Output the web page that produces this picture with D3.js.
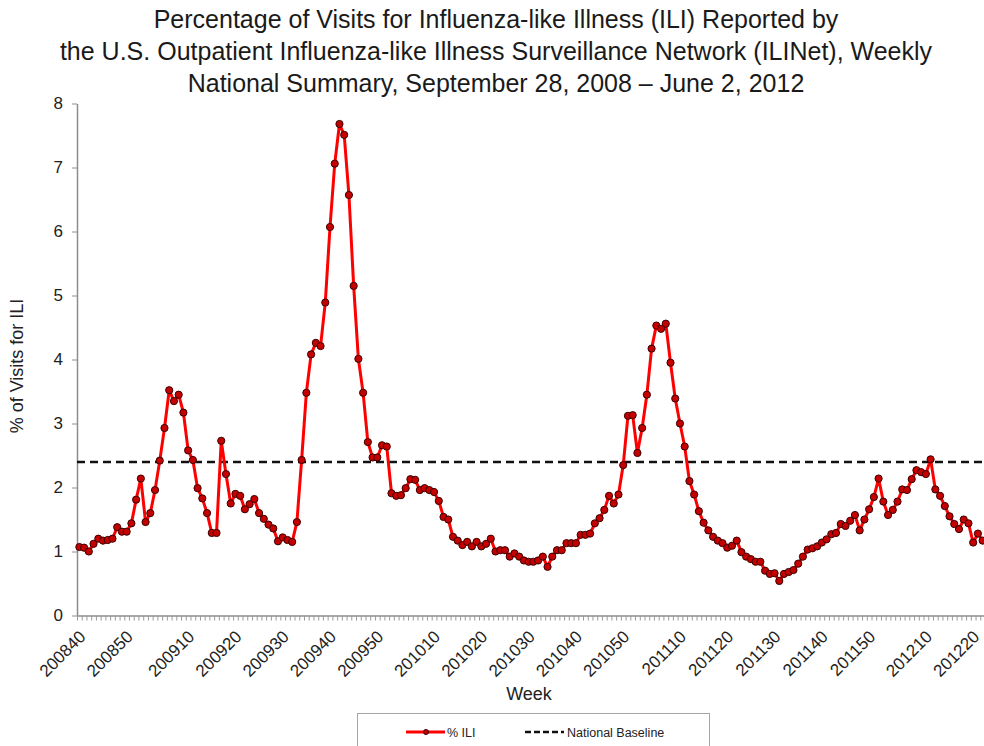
<!DOCTYPE html>
<html>
<head>
<meta charset="utf-8">
<script src="https://cdn.jsdelivr.net/npm/d3@7"></script>
<style>
  body { margin: 0; background: #fff; }
  svg { display: block; font-family: "Liberation Sans", Arial, sans-serif; }
</style>
</head>
<body>
<div id="chart"></div>
<script>
(function() {
  // MMWR weeks shown: [year, first week, last week]
  var yearWeeks = [[2008, 40, 53], [2009, 1, 52], [2010, 1, 52], [2011, 1, 52], [2012, 1, 22]];

  // % of visits for ILI, one value per week
  var ili2008 = [1.07, 1.06, 1.00, 1.12, 1.20, 1.17, 1.18, 1.20, 1.38, 1.31, 1.31, 1.44, 1.81, 2.14];
  var ili2009 = [1.46, 1.60, 1.96, 2.42, 2.93, 3.52, 3.35, 3.45, 3.17, 2.58,
                 2.43, 1.99, 1.83, 1.60, 1.29, 1.29, 2.73, 2.21, 1.75, 1.90,
                 1.87, 1.66, 1.74, 1.82, 1.60, 1.51, 1.42, 1.36, 1.16, 1.22,
                 1.18, 1.15, 1.46, 2.43, 3.48, 4.08, 4.26, 4.21, 4.89, 6.07,
                 7.06, 7.68, 7.51, 6.57, 5.15, 4.01, 3.48, 2.71, 2.47, 2.47,
                 2.66, 2.64];
  var ili2010 = [1.91, 1.87, 1.88, 1.99, 2.13, 2.12, 1.96, 1.99, 1.96, 1.93,
                 1.79, 1.54, 1.50, 1.23, 1.17, 1.10, 1.15, 1.08, 1.15, 1.08,
                 1.12, 1.20, 1.00, 1.02, 1.02, 0.92, 0.97, 0.92, 0.86, 0.84,
                 0.84, 0.86, 0.92, 0.76, 0.92, 1.02, 1.02, 1.13, 1.13, 1.13,
                 1.26, 1.26, 1.28, 1.44, 1.52, 1.65, 1.87, 1.75, 1.89, 2.35,
                 3.12, 3.13];
  var ili2011 = [2.54, 2.93, 3.45, 4.17, 4.53, 4.48, 4.56, 3.95, 3.39, 3.00,
                 2.64, 2.10, 1.89, 1.63, 1.45, 1.33, 1.23, 1.17, 1.13, 1.06,
                 1.09, 1.17, 0.99, 0.92, 0.88, 0.84, 0.84, 0.70, 0.65, 0.66,
                 0.54, 0.65, 0.68, 0.71, 0.81, 0.92, 1.03, 1.05, 1.08, 1.14,
                 1.19, 1.27, 1.29, 1.43, 1.40, 1.48, 1.57, 1.33, 1.50, 1.66,
                 1.85, 2.14];
  var ili2012 = [1.78, 1.57, 1.65, 1.78, 1.97, 1.96, 2.13, 2.27, 2.24, 2.21,
                 2.44, 1.97, 1.87, 1.71, 1.55, 1.43, 1.35, 1.50, 1.44, 1.14,
                 1.28, 1.17];

  var nationalBaseline = 2.4;

  var tickLabels = ["200840", "200850", "200910", "200920", "200930", "200940", "200950",
                    "201010", "201020", "201030", "201040", "201050",
                    "201110", "201120", "201130", "201140", "201150",
                    "201210", "201220"];
  var yTicks = [0, 1, 2, 3, 4, 5, 6, 7, 8];

  var titleLines = [
    "Percentage of Visits for Influenza-like Illness (ILI) Reported by",
    "the U.S. Outpatient Influenza-like Illness Surveillance Network (ILINet), Weekly",
    "National Summary, September 28, 2008 \u2013 June 2, 2012"
  ];

  var weeks = [];
  yearWeeks.forEach(function(yw) {
    for (var w = yw[1]; w <= yw[2]; w++) {
      weeks.push(yw[0] + (w < 10 ? "0" : "") + w);
    }
  });
  var values = ili2008.concat(ili2009, ili2010, ili2011, ili2012);
  var data = weeks.map(function(w, i) { return { week: w, ili: values[i] }; });

  var width = 984, height = 746;
  var plot = { left: 77, right: 985, top: 103.5, bottom: 615.5 };

  var svg = d3.select("#chart")
    .append("svg")
    .attr("width", width)
    .attr("height", height);

  var xScale = d3.scalePoint()
    .domain(weeks)
    .range([plot.left, plot.right])
    .padding(0.5);

  var xEdge = d3.scaleLinear()
    .domain([0, weeks.length])
    .range([plot.left, plot.right]);

  var yScale = d3.scaleLinear()
    .domain([0, 8])
    .range([plot.bottom, plot.top]);

  // title
  svg.append("g")
    .selectAll("text")
    .data(titleLines)
    .enter()
    .append("text")
    .attr("x", 496)
    .attr("y", function(d, i) { return 28 + i * 32; })
    .attr("text-anchor", "middle")
    .attr("font-size", 25)
    .attr("fill", "#1a1a1a")
    .text(function(d) { return d; });

  // y axis
  var yAxis = svg.append("g")
    .attr("transform", "translate(" + plot.left + ",0)")
    .call(d3.axisLeft(yScale).tickValues(yTicks).tickSize(5).tickPadding(9).tickSizeOuter(0));
  yAxis.select(".domain").attr("stroke", "#8c8c8c").attr("stroke-width", 1.5);
  yAxis.selectAll(".tick line").attr("stroke", "#8c8c8c");
  yAxis.selectAll(".tick text")
    .attr("font-size", 17)
    .attr("font-family", "Liberation Sans, Arial, sans-serif")
    .attr("fill", "#222");

  // x axis: one small tick per week boundary
  var xAxis = svg.append("g")
    .attr("transform", "translate(0," + plot.bottom + ")")
    .call(d3.axisBottom(xEdge).tickValues(d3.range(weeks.length + 1)).tickSize(5).tickFormat("").tickSizeOuter(0));
  xAxis.select(".domain").attr("stroke", "#8c8c8c").attr("stroke-width", 1.5);
  xAxis.selectAll(".tick line").attr("stroke", "#9a9a9a");

  svg.append("g")
    .selectAll("text")
    .data(tickLabels)
    .enter()
    .append("text")
    .attr("transform", function(d) {
      return "translate(" + (xScale(d) + 3) + "," + (plot.bottom + 18) + ") rotate(-45)";
    })
    .attr("text-anchor", "end")
    .attr("dy", "0.35em")
    .attr("font-size", 17)
    .attr("fill", "#222")
    .text(function(d) { return d; });

  // axis titles
  svg.append("text")
    .attr("x", 529)
    .attr("y", 700)
    .attr("text-anchor", "middle")
    .attr("font-size", 18)
    .attr("fill", "#222")
    .text("Week");

  svg.append("text")
    .attr("transform", "translate(23,366) rotate(-90)")
    .attr("text-anchor", "middle")
    .attr("font-size", 18)
    .attr("fill", "#222")
    .text("% of Visits for ILI");

  // national baseline
  svg.append("line")
    .attr("x1", plot.left)
    .attr("x2", plot.right)
    .attr("y1", yScale(nationalBaseline))
    .attr("y2", yScale(nationalBaseline))
    .attr("stroke", "#111")
    .attr("stroke-width", 2.5)
    .attr("stroke-dasharray", "8,5");

  // ILI line and markers
  var line = d3.line()
    .x(function(d) { return xScale(d.week); })
    .y(function(d) { return yScale(d.ili); });

  svg.append("path")
    .datum(data)
    .attr("d", line)
    .attr("fill", "none")
    .attr("stroke", "#ff0000")
    .attr("stroke-width", 3)
    .attr("stroke-linejoin", "round");

  svg.append("g")
    .selectAll("circle")
    .data(data)
    .enter()
    .append("circle")
    .attr("cx", function(d) { return xScale(d.week); })
    .attr("cy", function(d) { return yScale(d.ili); })
    .attr("r", 3.6)
    .attr("fill", "#c40000")
    .attr("stroke", "#3a0000")
    .attr("stroke-width", 1);

  // legend
  var legend = svg.append("g");
  legend.append("rect")
    .attr("x", 357.5)
    .attr("y", 713.5)
    .attr("width", 352)
    .attr("height", 50)
    .attr("fill", "#fff")
    .attr("stroke", "#a6a6a6");
  legend.append("line")
    .attr("x1", 406).attr("x2", 445)
    .attr("y1", 732).attr("y2", 732)
    .attr("stroke", "#ff0000").attr("stroke-width", 3);
  legend.append("circle")
    .attr("cx", 426).attr("cy", 732).attr("r", 2.5)
    .attr("fill", "#c40000").attr("stroke", "#3a0000").attr("stroke-width", 1);
  legend.append("text")
    .attr("x", 447).attr("y", 736.5)
    .attr("font-size", 12.5).attr("fill", "#222")
    .text("% ILI");
  legend.append("line")
    .attr("x1", 525).attr("x2", 564)
    .attr("y1", 732).attr("y2", 732)
    .attr("stroke", "#111").attr("stroke-width", 2.5)
    .attr("stroke-dasharray", "6,3");
  legend.append("text")
    .attr("x", 567).attr("y", 736.5)
    .attr("font-size", 12.5).attr("fill", "#222")
    .text("National Baseline");
})();
</script>
</body>
</html>
